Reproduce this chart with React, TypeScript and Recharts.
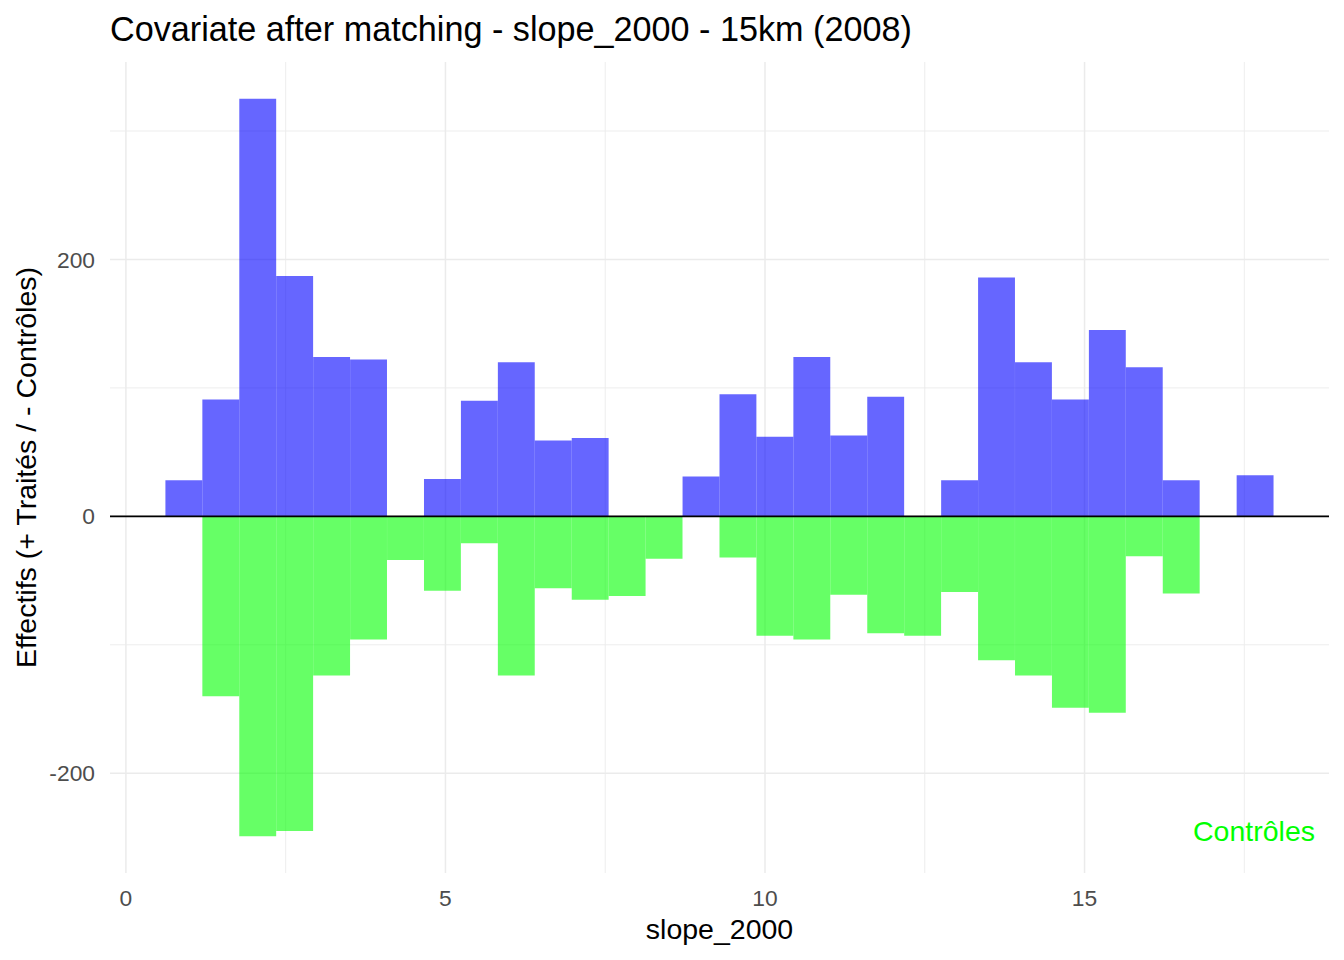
import React from "react";
import {
  ComposedChart,
  Bar,
  XAxis,
  YAxis,
  CartesianGrid,
  ReferenceLine,
} from "recharts";

// ---- data ----
const binCenters = [
  0.907, 1.485, 2.063, 2.641, 3.219, 3.797, 4.375, 4.953, 5.531, 6.109,
  6.687, 7.265, 7.843, 8.421, 8.999, 9.577, 10.155, 10.733, 11.311, 11.889,
  12.467, 13.045, 13.623, 14.201, 14.779, 15.357, 15.935, 16.513, 17.091, 17.669,
];
const binWidth = 0.578;
const treated = [
  28, 91, 325, 187, 124, 122, 0, 29, 90, 120,
  59, 61, 0, 0, 31, 95, 62, 124, 63, 93,
  0, 28, 186, 120, 91, 145, 116, 28, 0, 32,
];
const controls = [
  0, -140, -249, -245, -124, -96, -34, -58, -21, -124,
  -56, -65, -62, -33, 0, -32, -93, -96, -61, -91,
  -93, -59, -112, -124, -149, -153, -31, -60, 0, 0,
];
const xTicks = [0, 5, 10, 15];
const xMinorTicks = [2.5, 7.5, 12.5, 17.5];
const yTicks = [-200, 0, 200];
const yMinorTicks = [-100, 100, 300];

const titleText = "Covariate after matching - slope_2000 - 15km (2008)";
const xTitle = "slope_2000";
const yTitle = "Effectifs (+ Traités / - Contrôles)";
const controlsLabel = "Contrôles";

// ---- layout ----
const W = 1344;
const H = 960;
const MARGIN = { top: 62, right: 15, bottom: 57, left: 0 };
const Y_AXIS_W = 110;
const X_AXIS_H = 30;
const FONT = "'Liberation Sans', Arial, Helvetica, sans-serif";
const BASE = 28.5;

const data = binCenters.map((x, i) => ({ x, treated: treated[i], controls: controls[i] }));

const xLo = binCenters[0] - binWidth / 2;
const xHi = binCenters[binCenters.length - 1] + binWidth / 2;
const xPad = 0.05 * (xHi - xLo);
const xDomain: [number, number] = [xLo - xPad, xHi + xPad];
const yLo = Math.min(...controls);
const yHi = Math.max(...treated);
const yPad = 0.05 * (yHi - yLo);
const yDomain: [number, number] = [yLo - yPad, yHi + yPad];

const plotW = W - MARGIN.left - MARGIN.right - Y_AXIS_W;
// bar width = one bin width on the x scale (tiny shave so Recharts keeps it)
const barSize = (binWidth / (xDomain[1] - xDomain[0])) * plotW - 0.05;

export default function App() {
  const tickStyle = { fill: "#4D4D4D", fontSize: BASE * 0.8, fontFamily: FONT };
  return (
    <div style={{ position: "absolute", left: 0, top: 0, width: W, height: H, background: "#fff" }}>
      <ComposedChart
        width={W}
        height={H}
        data={data}
        margin={MARGIN}
        stackOffset="sign"
        barCategoryGap="0%"
        barGap={0}
      >
        <XAxis xAxisId="minor" type="number" dataKey="x" domain={xDomain} ticks={xMinorTicks} allowDataOverflow hide />
        <YAxis yAxisId="minor" type="number" domain={yDomain} ticks={yMinorTicks} allowDataOverflow hide />
        <CartesianGrid xAxisId="minor" yAxisId="minor" stroke="#EBEBEB" strokeWidth={0.9} syncWithTicks />
        <XAxis
          type="number"
          dataKey="x"
          domain={xDomain}
          ticks={xTicks}
          allowDataOverflow
          height={X_AXIS_H}
          axisLine={false}
          tickLine={false}
          tickSize={0}
          tickMargin={17}
          tick={tickStyle}
        />
        <YAxis
          type="number"
          domain={yDomain}
          ticks={yTicks}
          allowDataOverflow
          width={Y_AXIS_W}
          axisLine={false}
          tickLine={false}
          tickSize={0}
          tickMargin={15}
          tick={tickStyle}
        />
        <CartesianGrid stroke="#EBEBEB" strokeWidth={1.5} syncWithTicks />
        <Bar
          dataKey="treated"
          stackId="h"
          fill="#0000FF"
          fillOpacity={0.6}
          barSize={barSize}
          isAnimationActive={false}
        />
        <Bar
          dataKey="controls"
          stackId="h"
          fill="#00FF00"
          fillOpacity={0.6}
          barSize={barSize}
          isAnimationActive={false}
        />
        <ReferenceLine y={0} stroke="#000000" strokeWidth={1.8} />
      </ComposedChart>
      <svg
        width={W}
        height={H}
        style={{ position: "absolute", left: 0, top: 0, pointerEvents: "none" }}
      >
        <text x={110} y={41} fontSize={BASE * 1.2} fontFamily={FONT} fill="#000">
          {titleText}
        </text>
        <text
          x={719.5}
          y={939}
          fontSize={BASE}
          fontFamily={FONT}
          fill="#000"
          textAnchor="middle"
        >
          {xTitle}
        </text>
        <text
          transform="translate(36, 467.5) rotate(-90)"
          fontSize={BASE}
          fontFamily={FONT}
          fill="#000"
          textAnchor="middle"
        >
          {yTitle}
        </text>
        <text
          x={1315}
          y={841}
          fontSize={BASE}
          fontFamily={FONT}
          fill="#00FF00"
          textAnchor="end"
        >
          {controlsLabel}
        </text>
      </svg>
    </div>
  );
}
